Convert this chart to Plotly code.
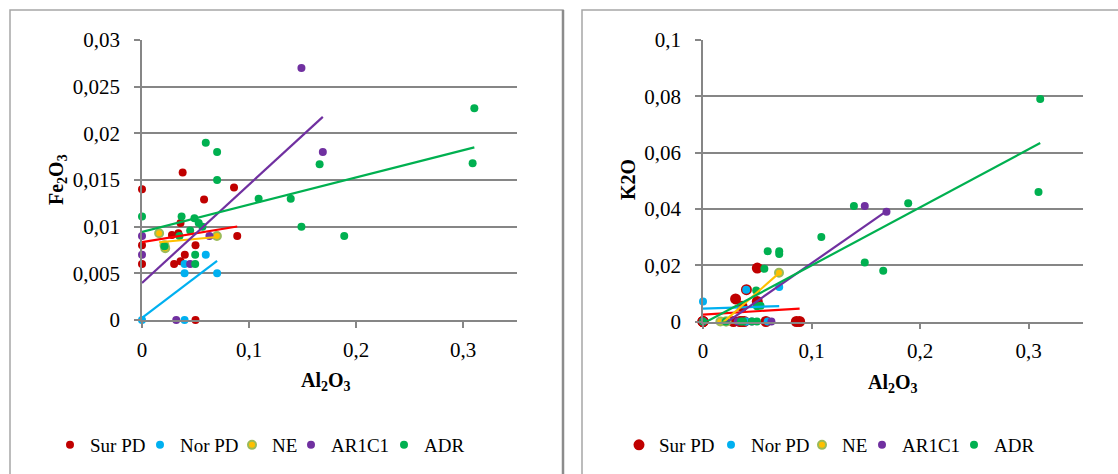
import numpy as np
import plotly.graph_objects as go

W, H = 1118, 474

# ---------------- data (Al2O3, Fe2O3, K2O) ----------------
series_names = ["Sur PD", "Nor PD", "NE", "AR1C1", "ADR"]

sur_al = [0, 0, 0, 0.038, 0.086, 0.058, 0.036, 0.028, 0.034, 0.089, 0.050, 0.040, 0.030, 0.036, 0.050]
sur_fe = [0.014, 0.008, 0.006, 0.0158, 0.0142, 0.0129, 0.0104, 0.0091, 0.0093, 0.009, 0.008, 0.007, 0.006, 0.0063, 0]
sur_k = [0, 0, 0, 0, 0, 0, 0.0054, 0, 0, 0, 0.019, 0.0113, 0.008, 0, 0.0071]

nor_al = [0, 0.0398, 0.0398, 0.0398, 0.0596, 0.0702]
nor_fe = [0, 0.006, 0.005, 0, 0.007, 0.005]
nor_k = [0.0071, 0.0113, 0, 0, 0, 0.0123]

ne_al = [0.016, 0.021, 0.0217, 0.070]
ne_fe = [0.0093, 0.008, 0.0077, 0.009]
ne_k = [0, 0, 0, 0.0173]

ar_al = [0, 0, 0.032, 0.045, 0.063, 0.149, 0.169]
ar_fe = [0.009, 0.007, 0, 0.006, 0.009, 0.027, 0.018]
ar_k = [0, 0, 0, 0, 0, 0.041, 0.039]

adr_al = [0, 0.0596, 0.0702, 0.0702, 0.166, 0.3106, 0.309, 0.109, 0.139, 0.149,
          0.189, 0.037, 0.049, 0.053, 0.0565, 0.045, 0.035, 0.021, 0.0497, 0.0497]
adr_fe = [0.0111, 0.019, 0.018, 0.015, 0.0167, 0.0227, 0.0168, 0.013, 0.013, 0.010,
          0.009, 0.0111, 0.0109, 0.0104, 0.010, 0.0096, 0.009, 0.0079, 0.007, 0.006]
adr_k = [0, 0.025, 0.025, 0.024, 0.018, 0.079, 0.046, 0.030, 0.041, 0.021,
         0.042, 0, 0.011, 0.0056, 0.0187, 0, 0, 0, 0.0054, 0]

x_ticks = [0, 0.1, 0.2, 0.3]
x_ticktext = ["0", "0,1", "0,2", "0,3"]
fe_ticks = [0, 0.005, 0.01, 0.015, 0.02, 0.025, 0.03]
fe_ticktext = ["0", "0,005", "0,01", "0,015", "0,02", "0,025", "0,03"]
k_ticks = [0, 0.02, 0.04, 0.06, 0.08, 0.1]
k_ticktext = ["0", "0,02", "0,04", "0,06", "0,08", "0,1"]

# ---------------- styles ----------------
FONT = "Liberation Serif"
GRID = "#868686"
marker_colors = ["#C00000", "#00B0F0", "#FFC000", "#7030A0", "#00B050"]
marker_lines = ["#C00000", "#00B0F0", "#9BBB59", "#7030A0", "#00B050"]
trend_colors = ["#FF0000", "#00B0F0", "#FFC000", "#7030A0", "#00B050"]
left_sizes = [8, 8, 8, 8, 8]
right_sizes = [11, 8, 8, 8, 8]
# legend entry text start (px) for each chart
left_legend_text_px = [91, 181, 273, 332, 425]
right_legend_text_px = [660, 752, 843, 903, 995]

al_sets = [sur_al, nor_al, ne_al, ar_al, adr_al]
fe_sets = [sur_fe, nor_fe, ne_fe, ar_fe, adr_fe]
k_sets = [sur_k, nor_k, ne_k, ar_k, adr_k]


def fx(p):
    return p / W


def fy(p):
    return 1 - p / H


fig = go.Figure()
legend_layouts = {}
leg_counter = 0

for panel, ysets, sizes, xa, ya, text_px in [
    ("L", fe_sets, left_sizes, "x", "y", left_legend_text_px),
    ("R", k_sets, right_sizes, "x2", "y2", right_legend_text_px),
]:
    for i, name in enumerate(series_names):
        leg_counter += 1
        leg = "legend" if leg_counter == 1 else f"legend{leg_counter}"
        legend_layouts[leg] = dict(
            orientation="h", x=fx(text_px[i] - 41), xanchor="left", y=fy(445), yanchor="middle",
            font=dict(family=FONT, size=19, color="black"), bgcolor="rgba(0,0,0,0)",
        )
        fig.add_trace(go.Scatter(
            x=al_sets[i], y=ysets[i], mode="markers", name=name,
            xaxis=xa, yaxis=ya, legend=leg, cliponaxis=False,
            marker=dict(size=sizes[i], color=marker_colors[i],
                        line=dict(color=marker_lines[i], width=2 if i == 2 else 0)),
        ))
    for i, name in enumerate(series_names):
        xs = np.array(al_sets[i], dtype=float)
        ys = np.array(ysets[i], dtype=float)
        m, b = np.polyfit(xs, ys, 1)
        xl = np.array([xs.min(), xs.max()])
        fig.add_trace(go.Scatter(
            x=xl, y=m * xl + b, mode="lines", showlegend=False, hoverinfo="skip",
            xaxis=xa, yaxis=ya, line=dict(color=trend_colors[i], width=2.2),
        ))

axis_common = dict(
    showline=True, linecolor=GRID, linewidth=1.5, ticks="outside", ticklen=6,
    tickcolor=GRID, tickwidth=1.5, zeroline=False, automargin=False,
    tickfont=dict(family=FONT, size=21, color="black"),
)

fig.update_layout(
    width=W, height=H, margin=dict(l=0, r=0, t=0, b=0, pad=0, autoexpand=False),
    paper_bgcolor="white", plot_bgcolor="white",
    font=dict(family=FONT, color="black"),
    xaxis=dict(domain=[fx(142), fx(516.5)], range=[0, 0.35], tickvals=x_ticks,
               ticktext=x_ticktext, showgrid=False, anchor="y", ticklabelstandoff=4, **axis_common),
    yaxis=dict(domain=[fy(320), fy(40)], range=[0, 0.03], tickvals=fe_ticks,
               ticktext=fe_ticktext, showgrid=True, gridcolor=GRID, gridwidth=1.5,
               anchor="x", ticklabelstandoff=10, **axis_common),
    xaxis2=dict(domain=[fx(703), fx(1083)], range=[0, 0.35], tickvals=x_ticks,
                ticktext=x_ticktext, showgrid=False, anchor="y2", ticklabelstandoff=4, **axis_common),
    yaxis2=dict(domain=[fy(321.5), fy(40)], range=[0, 0.1], tickvals=k_ticks,
                ticktext=k_ticktext, showgrid=True, gridcolor=GRID, gridwidth=1.5,
                anchor="x2", ticklabelstandoff=10, **axis_common),
    showlegend=True,
)
fig.update_layout(**legend_layouts)

# chart frames
fig.add_shape(type="rect", xref="paper", yref="paper", x0=fx(10), x1=fx(563), y0=fy(490), y1=fy(10),
              line=dict(color="#A6A6A6", width=1.5), layer="below")
fig.add_shape(type="line", xref="paper", yref="paper", x0=fx(563), x1=fx(563), y0=fy(490), y1=fy(10),
              line=dict(color="#8C8C8C", width=2.5))
fig.add_shape(type="rect", xref="paper", yref="paper", x0=fx(582), x1=fx(1130), y0=fy(490), y1=fy(10),
              line=dict(color="#A6A6A6", width=1.5), layer="below")

# axis titles
title_font = dict(family=FONT, size=20, color="black")
fig.add_annotation(text="<b>Fe<sub>2</sub>O<sub>3</sub></b>", xref="paper", yref="paper",
                   x=fx(57), y=fy(180), textangle=-90, showarrow=False, font=title_font,
                   xanchor="center", yanchor="middle")
fig.add_annotation(text="<b>Al<sub>2</sub>O<sub>3</sub></b>", xref="paper", yref="paper",
                   x=fx(326), y=fy(381), showarrow=False, font=title_font,
                   xanchor="center", yanchor="middle")
fig.add_annotation(text="<b>K2O</b>", xref="paper", yref="paper",
                   x=fx(628), y=fy(180), textangle=-90, showarrow=False, font=title_font,
                   xanchor="center", yanchor="middle")
fig.add_annotation(text="<b>Al<sub>2</sub>O<sub>3</sub></b>", xref="paper", yref="paper",
                   x=fx(893), y=fy(383), showarrow=False, font=title_font,
                   xanchor="center", yanchor="middle")

fig.write_html("out.html", config={"displayModeBar": False},
               post_script="document.body.style.margin='0';")
